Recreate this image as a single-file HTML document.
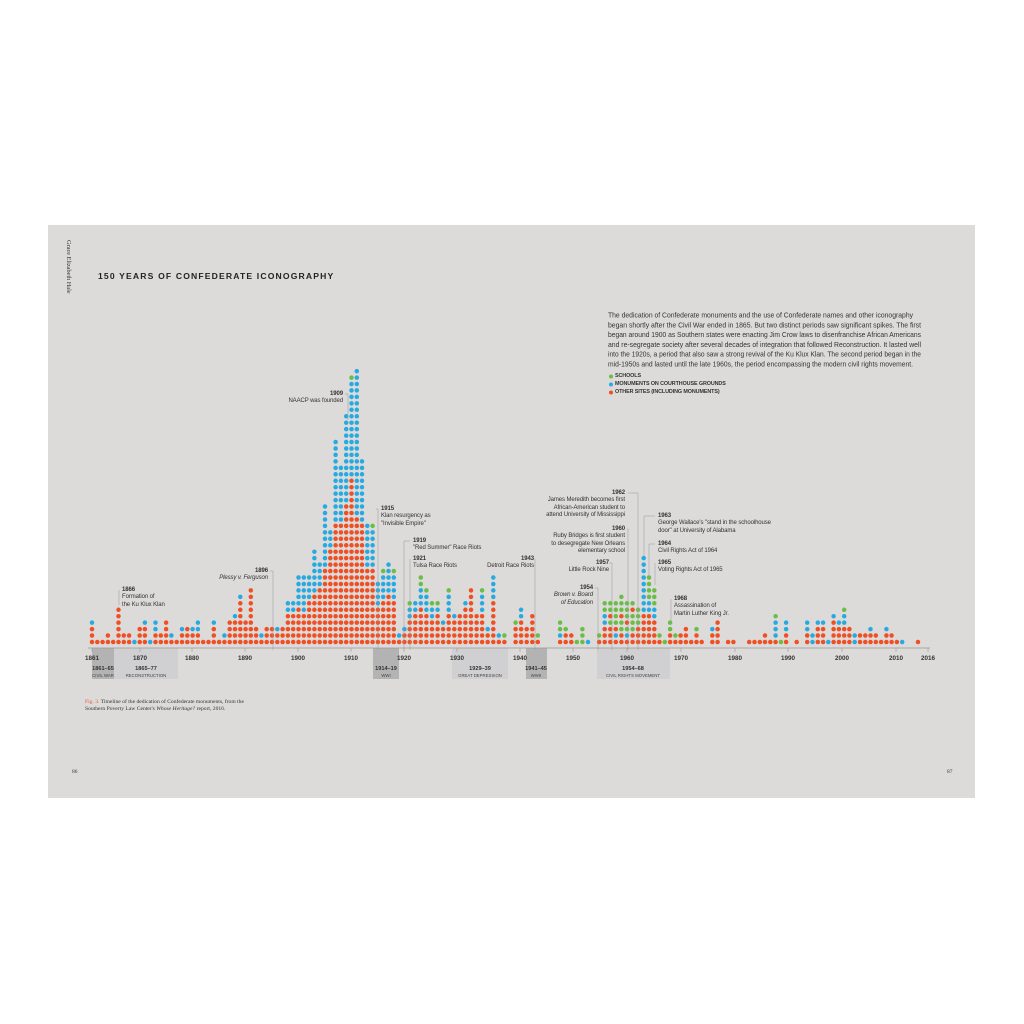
<!DOCTYPE html>
<html><head><meta charset="utf-8">
<style>
html,body{margin:0;padding:0;background:#fff;}
body{width:1024px;height:1024px;position:relative;overflow:hidden;font-family:"Liberation Sans",sans-serif;}
#page{position:absolute;left:48px;top:225px;width:927px;height:573px;background:#dcdbda;}
.t{position:absolute;color:#333;font-size:6px;line-height:7.4px;white-space:nowrap;letter-spacing:-0.1px;}
.r{text-align:right;}
.b{font-weight:bold;}
</style></head><body>
<div id="page"></div>
<svg id="s" width="1024" height="1024" style="position:absolute;left:0;top:0"></svg>
<div class="t" style="top:240px;transform:rotate(90deg);transform-origin:0 0;left:72px;font-family:'Liberation Serif',serif;font-size:6.5px;">Grace Elizabeth Hale</div>
<div style="position:absolute;left:98px;top:271px;font-size:8.6px;font-weight:bold;letter-spacing:1.15px;color:#222;">150 YEARS OF CONFEDERATE ICONOGRAPHY</div>
<div class="t b" style="left:615px;top:373px;font-size:5.4px;">SCHOOLS</div>
<div class="t b" style="left:615px;top:381px;font-size:5.4px;">MONUMENTS ON COURTHOUSE GROUNDS</div>
<div class="t b" style="left:615px;top:389px;font-size:5.4px;">OTHER SITES (INCLUDING MONUMENTS)</div>

<div class="t" style="left:122px;top:587px;"><span class="b">1866</span><br>Formation of<br>the Ku Klux Klan</div>
<div class="t r" style="right:756px;top:568px;"><span class="b">1896</span><br><i>Plessy v. Ferguson</i></div>
<div class="t r" style="right:681px;top:391px;"><span class="b">1909</span><br>NAACP was founded</div>
<div class="t" style="left:381px;top:506px;"><span class="b">1915</span><br>Klan resurgency as<br>"Invisible Empire"</div>
<div class="t" style="left:413px;top:538px;"><span class="b">1919</span><br>"Red Summer" Race Riots</div>
<div class="t" style="left:413px;top:556px;"><span class="b">1921</span><br>Tulsa Race Riots</div>
<div class="t r" style="right:490px;top:556px;"><span class="b">1943</span><br>Detroit Race Riots</div>
<div class="t r" style="right:431px;top:585px;"><span class="b">1954</span><br><i>Brown v. Board<br>of Education</i></div>
<div class="t r" style="right:415px;top:560px;"><span class="b">1957</span><br>Little Rock Nine</div>
<div class="t r" style="right:399px;top:526px;"><span class="b">1960</span><br>Ruby Bridges is first student<br>to desegregate New Orleans<br>elementary school</div>
<div class="t r" style="right:399px;top:490px;"><span class="b">1962</span><br>James Meredith becomes first<br>African-American student to<br>attend University of Mississippi</div>
<div class="t" style="left:658px;top:513px;"><span class="b">1963</span><br>George Wallace's "stand in the schoolhouse<br>door" at University of Alabama</div>
<div class="t" style="left:658px;top:541px;"><span class="b">1964</span><br>Civil Rights Act of 1964</div>
<div class="t" style="left:658px;top:560px;"><span class="b">1965</span><br>Voting Rights Act of 1965</div>
<div class="t" style="left:674px;top:596px;"><span class="b">1968</span><br>Assassination of<br>Martin Luther King Jr.</div>

<div style="position:absolute;left:85px;top:699px;font-family:'Liberation Serif',serif;font-size:5.6px;line-height:7.3px;color:#333;"><span style="color:#e4572e">Fig. 3.</span> Timeline of the dedication of Confederate monuments, from the<br>Southern Poverty Law Center's <i>Whose Heritage?</i> report, 2016.</div>
<div style="position:absolute;left:72px;top:769px;font-family:'Liberation Serif',serif;font-size:5.5px;color:#333;">86</div>
<div style="position:absolute;left:947px;top:769px;font-family:'Liberation Serif',serif;font-size:5.5px;color:#333;">87</div>

<script>
var C={o:"#f04e23",b:"#27aae1",g:"#6abd45"};
var D={1861:"ooob",1862:"o",1863:"o",1864:"oo",1865:"o",1866:"oooooo",1867:"oo",1868:"oo",1869:"b",1870:"ooo",1871:"ooob",1872:"b",1873:"oobb",1874:"oo",1875:"oooo",1876:"ob",1877:"o",1878:"oob",1879:"ooo",1880:"oob",1881:"oobb",1882:"o",1883:"o",1884:"ooob",1885:"o",1886:"ob",1887:"oooo",1888:"oooob",1889:"ooooooob",1890:"oooo",1891:"ooooooooo",1892:"ooo",1893:"ob",1894:"ooo",1895:"ooo",1896:"oob",1897:"ooo",1898:"ooooobb",1899:"ooooobb",
1900:"oooooobbbbb",1901:"ooooobbbbbb",1902:"ooooooobbbb",1903:"oooooooobbbbbbb",1904:"ooooooooobbbb",1905:"oooooooooooobbbbbbbbbb",1906:"ooooooooooooooobbb",1907:"ooooooooooooooooooobbbbbbbbbbbbb",1908:"ooooooooooooooooooobbbbbbbbb",1909:"oooooooooooooooooooooobbbbbbbbbbbbbb",1910:"oooooooooooooooooooooooooobbbbbbbbbbbbbbbg",1911:"oooooooooooooooooooobbbbbbbbbbbbbbbbbbbbbbb",1912:"ooooooooooooooooooobbbbbbbbbb",1913:"oooooooooooobbbbbbb",1914:"oooooooooooobbbbbbg",1915:"oooooobbbb",1916:"ooooooobbbbg",1917:"oooooooobbbbb",1918:"ooooooobbbbg",1919:"ob",
1920:"oob",1921:"oooobbg",1922:"ooooobb",1923:"oooooobbbgg",1924:"ooooobbbg",1925:"oooobbg",1926:"ooooobg",1927:"ooob",1928:"ooooobbbg",1929:"oooob",1930:"ooooo",1931:"oooooob",1932:"ooooooooo",1933:"ooooo",1934:"ooooobbbg",1935:"oob",1936:"ooooooobbbb",1937:"ob",1938:"og",
1940:"ooog",1941:"oooobb",1942:"ooo",1943:"ooooo",1944:"og",1948:"obgg",1949:"oog",1950:"oo",1951:"g",1952:"ggg",1953:"b",1955:"og",1956:"ooobbgg",1957:"ooogogg",1958:"obogggg",1959:"ooggoggg",1960:"obgoggg",1961:"oogggog",1962:"oooggg",1963:"ooooobbbbbbbbb",1964:"ooooobbgggg",1965:"oooobbggg",1966:"og",1967:"g",1968:"oogg",1969:"og",1970:"oo",1971:"ooo",1972:"o",1973:"oog",1974:"o",1976:"oob",1977:"oooo",1979:"o",1980:"o",1983:"o",1984:"o",1985:"o",1986:"oo",1987:"o",1988:"obbbg",1989:"g",1990:"oobb",1992:"o",1994:"oobb",1995:"bb",1996:"ooob",1997:"ooob",1998:"b",1999:"oooob",2000:"ooob",2001:"ooobbg",2002:"ooo",2003:"bb",2004:"oo",2005:"oo",2006:"oob",2007:"oo",2008:"o",2009:"oob",2010:"oo",2011:"o",2012:"b",2015:"o"};
var A=[[1861,92],[1921,409.7],[1963,643.7],[2016,923.3]];
function X(y){for(var i=0;i<A.length-1;i++){var a=A[i],b=A[i+1];if(y<=b[0]||i==A.length-2)return a[1]+(y-a[0])*(b[1]-a[1])/(b[0]-a[0]);}}
var h='';
function band(a,b,c){h+='<rect x="'+a+'" y="648" width="'+(b-a)+'" height="31" fill="'+c+'"/>';}
band(92,114,"#b3b3b4");band(114,178,"#d0d0d2");band(373,399,"#b3b3b4");band(452,508,"#d0d0d2");band(526,547,"#b3b3b4");band(597,670,"#d0d0d2");
h+='<line x1="88" y1="648" x2="930" y2="648" stroke="#999" stroke-width="0.8"/>';
for(var y in D){var s=D[y];for(var i=0;i<s.length;i++){h+='<circle cx="'+X(+y).toFixed(1)+'" cy="'+(642-i*6.45).toFixed(1)+'" r="2.25" fill="'+C[s[i]]+'"/>';}}
var T={1861:92,1870:140,1880:192,1890:245,1900:298,1910:351,1920:404,1930:457,1940:520,1950:573,1960:627,1970:681,1980:735,1990:788,2000:842,2010:896,2016:928};
for(var y in T){var x=T[y];h+='<line x1="'+x+'" y1="648" x2="'+x+'" y2="652" stroke="#999" stroke-width="0.6"/><text x="'+x+'" y="660" font-size="6.3" font-weight="bold" text-anchor="middle" fill="#333" font-family="Liberation Sans">'+y+'</text>';}
function lab(x,a,b){h+='<text x="'+x+'" y="670" font-size="5.6" font-weight="bold" text-anchor="middle" fill="#333" font-family="Liberation Sans">'+a+'</text><text x="'+x+'" y="677" font-size="4.3" text-anchor="middle" fill="#444" font-family="Liberation Sans">'+b+'</text>';}
lab(103,"1861–65","CIVIL WAR");lab(146,"1865–77","RECONSTRUCTION");lab(386,"1914–19","WWI");lab(480,"1929–39","GREAT DEPRESSION");lab(536,"1941–45","WWII");lab(633,"1954–68","CIVIL RIGHTS MOVEMENT");
var P=["The dedication of Confederate monuments and the use of Confederate names and other iconography","began shortly after the Civil War ended in 1865. But two distinct periods saw significant spikes. The first","began around 1900 as Southern states were enacting Jim Crow laws to disenfranchise African Americans","and re-segregate society after several decades of integration that followed Reconstruction. It lasted well","into the 1920s, a period that also saw a strong revival of the Ku Klux Klan. The second period began in the","mid-1950s and lasted until the late 1960s, the period encompassing the modern civil rights movement."];
var W=[305,313,313,313,313,305];
P.forEach(function(t,i){h+='<text x="608" y="'+(317.5+i*9.75)+'" font-size="7.2" fill="#333" font-family="Liberation Sans" textLength="'+W[i]+'" lengthAdjust="spacingAndGlyphs">'+t+'</text>';});
function L(p){h+='<polyline points="'+p+'" fill="none" stroke="#999" stroke-width="0.5"/>';}
L("119,590 119,605");L("270,571 273,571 273,650");L("345,394 348,394 348,420");L("376,509 378,509 378,650");
L("410,541 404,541 404,650");L("410,559 410,650");L("535,559 535,650");L("595,588 598,588 598,650");
L("609,563 612,563 612,650");L("627,529 628,529 628,650");L("628,493 638,493 638,650");L("655,516 644,516 644,556");L("655,544 649,544 649,575");L("655,563 655,585");L("671,599 671,622");
h+='<circle cx="611" cy="376.5" r="2" fill="'+C.g+'"/><circle cx="611" cy="384.5" r="2" fill="'+C.b+'"/><circle cx="611" cy="392.5" r="2" fill="'+C.o+'"/>';
document.getElementById('s').innerHTML=h;
</script>
</body></html>
